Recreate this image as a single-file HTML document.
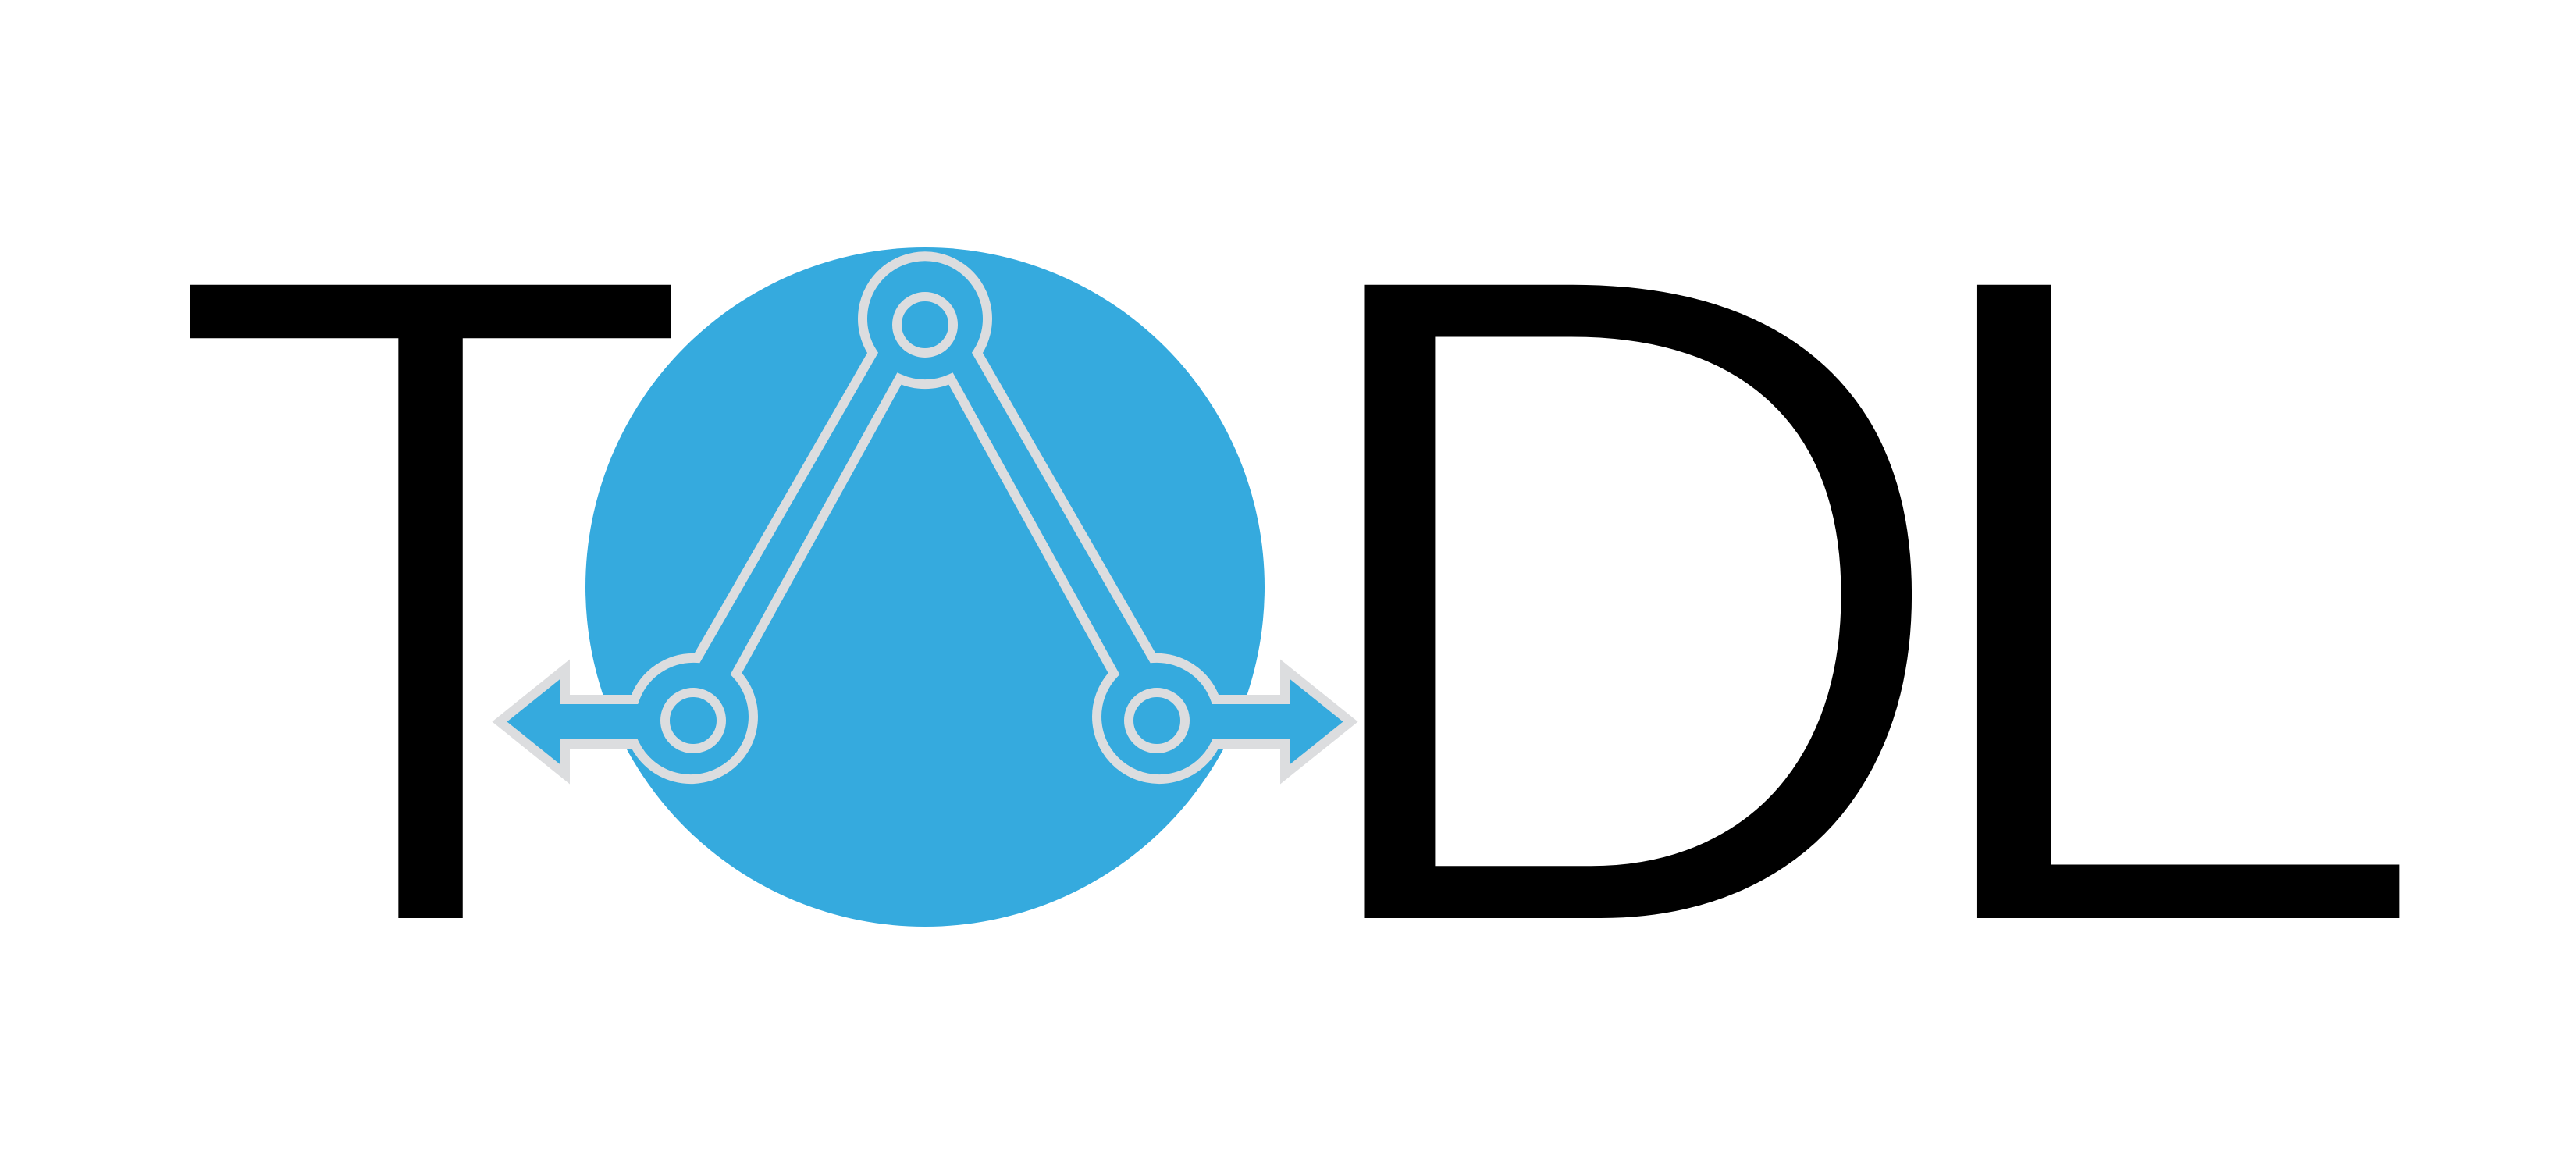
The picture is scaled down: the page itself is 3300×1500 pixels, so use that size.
<!DOCTYPE html>
<html><head><meta charset="utf-8"><style>
html,body{margin:0;padding:0;background:#fff;}
svg{display:block;}
text{font-family:"Liberation Sans",sans-serif;font-size:1214px;fill:#000;stroke:#fff;stroke-width:24px;stroke-linejoin:miter;}
</style></head><body>
<svg width="3300" height="1500" viewBox="0 0 3300 1500" xmlns="http://www.w3.org/2000/svg">
<rect width="3300" height="1500" fill="#fff"/>
<text transform="translate(207,1188) scale(0.93,1)">T</text>
<text transform="translate(1636,1188) scale(1.008,1)">D</text>
<text transform="translate(2415,1188) scale(1.057,1)">L</text>
<circle cx="1185" cy="752" r="435" fill="#35aade"/>
<path d="M1118,452 A80,80 0 1 1 1252,452 L1477,843 A80,80 0 0 1 1557,896 L1646,896 L1646,857 L1730,924.5 L1646,992 L1646,953 L1557,953 A80,80 0 1 1 1427,863 L1218,485 A80,80 0 0 1 1152,485 L943,863 A80,80 0 1 1 813,953 L724,953 L724,992 L640,924.5 L724,857 L724,896 L813,896 A80,80 0 0 1 893,843 Z" fill="#35aade" stroke="#dcdddf" stroke-width="12" stroke-linejoin="miter"/>
<circle cx="1185" cy="416" r="36" fill="none" stroke="#dcdddf" stroke-width="12"/>
<circle cx="888" cy="923" r="36" fill="none" stroke="#dcdddf" stroke-width="12"/>
<circle cx="1482" cy="923" r="36" fill="none" stroke="#dcdddf" stroke-width="12"/>
</svg>
</body></html>
